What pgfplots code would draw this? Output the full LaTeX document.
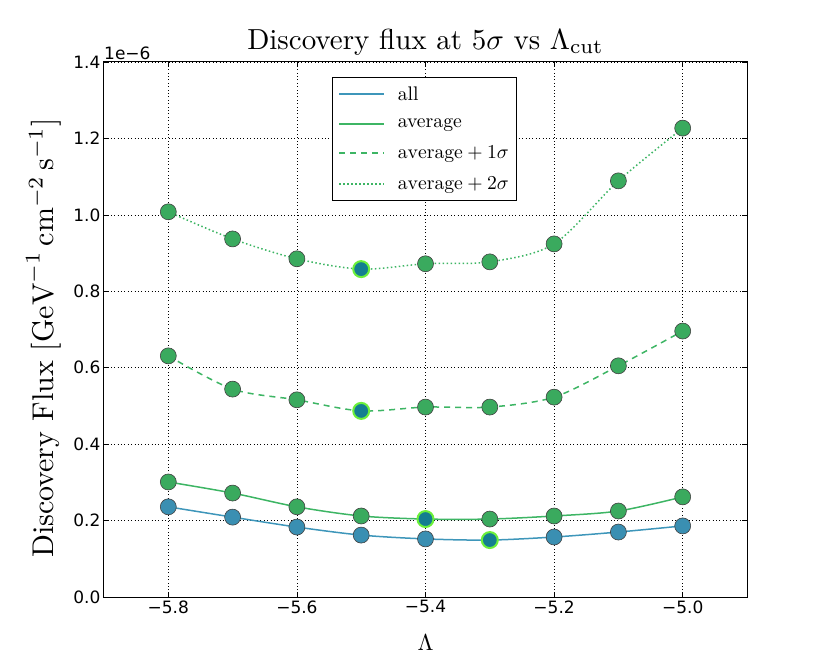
\documentclass[border=0pt]{standalone}
\usepackage{pgfplots}
\pgfplotsset{compat=1.18}
\usepackage{fontspec}
\newfontfamily\dejavu{DejaVu Sans}
\definecolor{cblue}{HTML}{3E96BA}
\definecolor{cgreen}{HTML}{3DB564}
\definecolor{mblue}{HTML}{3A8FB2}
\definecolor{mgreen}{HTML}{3AAA5E}
\definecolor{hfill}{HTML}{147E90}
\definecolor{hedge}{HTML}{6CF03A}
\newcommand{\lgf}[1]{\scalebox{1.97}{#1}}
\begin{document}
\begin{tikzpicture}
\path[use as bounding box] (-104pt,-67pt) rectangle (726pt,597pt);
\begin{axis}[name=ax,
  at={(0pt,0pt)}, anchor=south west,
  width=643pt, height=535pt, scale only axis,
  xmin=-5.9, xmax=-4.9, ymin=0, ymax=1.4,
  xtick={-5.8,-5.6,-5.4,-5.2,-5.0},
  xticklabels={−5.8,−5.6,−5.4,−5.2,−5.0},
  ytick={0,0.2,0.4,0.6,0.8,1.0,1.2,1.4},
  yticklabels={0.0,0.2,0.4,0.6,0.8,1.0,1.2,1.4},
  tick label style={font=\dejavu\fontsize{17}{20}\selectfont},
  xtick pos=both, ytick pos=both, tick align=inside,
  major tick length=5.5pt,
  tick style={black, line width=0.6pt},
  axis line style={black, line width=1pt},
  grid=major,
  grid style={black, line width=0.6pt, dash pattern=on 0.8pt off 2.6pt},
  title={Discovery flux at $5\sigma$ vs $\Lambda_{\rm cut}$},
  title style={font=\fontsize{10}{12}\selectfont, scale=2.9, inner sep=0pt, at={(axis description cs:0.5,1.012)}, anchor=base},
  xlabel={$\Lambda$},
  xlabel style={font=\fontsize{10}{12}\selectfont, scale=2.3, at={(axis description cs:0.5,-0.085)}, anchor=center},
  ylabel={Discovery Flux $[\mathrm{GeV}^{-1}\,\mathrm{cm}^{-2}\,\mathrm{s}^{-1}]$},
  ylabel style={font=\fontsize{10}{12}\selectfont, scale=3.0, at={(axis description cs:-0.094,0.484)}, anchor=center},
  legend style={at={(axis description cs:0.3546,0.972)}, anchor=north west,
    draw=black, line width=0.8pt,
    row sep=13pt, inner xsep=6pt, inner ysep=7pt},
  legend cell align=left,
  legend image code/.code={\draw[#1, line width=2pt] (0pt,0pt) -- (45pt,0pt); \path (56pt,0pt);},
]
\addlegendimage{color=cblue, solid}
\addlegendentry{\lgf{all}}
\addlegendimage{color=cgreen, solid}
\addlegendentry{\lgf{average}}
\addlegendimage{color=cgreen, dash pattern=on 6pt off 5pt}
\addlegendentry{\lgf{$\mathrm{average} + 1\sigma$}}
\addlegendimage{color=cgreen, dash pattern=on 1.5pt off 2.5pt}
\addlegendentry{\lgf{$\mathrm{average} + 2\sigma$}}
% lines
\addplot[forget plot, color=cblue, line width=1.5pt, smooth, no marks, solid] coordinates {
(-5.8,0.236) (-5.7,0.209) (-5.6,0.183) (-5.5,0.162) (-5.4,0.152) (-5.3,0.149) (-5.2,0.157) (-5.1,0.170) (-5.0,0.186)};
\addplot[forget plot, color=cgreen, line width=1.5pt, smooth, no marks, solid] coordinates {
(-5.8,0.301) (-5.7,0.272) (-5.6,0.236) (-5.5,0.212) (-5.4,0.204) (-5.3,0.204) (-5.2,0.212) (-5.1,0.225) (-5.0,0.262)};
\addplot[forget plot, color=cgreen, line width=1.5pt, smooth, no marks, dash pattern=on 6pt off 5pt] coordinates {
(-5.8,0.631) (-5.7,0.544) (-5.6,0.516) (-5.5,0.487) (-5.4,0.497) (-5.3,0.497) (-5.2,0.523) (-5.1,0.605) (-5.0,0.696)};
\addplot[forget plot, color=cgreen, line width=1.5pt, smooth, no marks, dash pattern=on 1.5pt off 2.5pt] coordinates {
(-5.8,1.008) (-5.7,0.937) (-5.6,0.885) (-5.5,0.858) (-5.4,0.872) (-5.3,0.877) (-5.2,0.924) (-5.1,1.089) (-5.0,1.227)};
% markers
\addplot[forget plot, only marks, mark=*, mark size=8pt, mark options={fill=mblue, draw=black!75, line width=0.6pt}] coordinates {
(-5.8,0.236) (-5.7,0.209) (-5.6,0.183) (-5.5,0.162) (-5.4,0.152) (-5.2,0.157) (-5.1,0.170) (-5.0,0.186)};
\addplot[forget plot, only marks, mark=*, mark size=8pt, mark options={fill=mgreen, draw=black!75, line width=0.6pt}] coordinates {
(-5.8,0.301) (-5.7,0.272) (-5.6,0.236) (-5.5,0.212) (-5.3,0.204) (-5.2,0.212) (-5.1,0.225) (-5.0,0.262)
(-5.8,0.631) (-5.7,0.544) (-5.6,0.516) (-5.4,0.497) (-5.3,0.497) (-5.2,0.523) (-5.1,0.605) (-5.0,0.696)
(-5.8,1.008) (-5.7,0.937) (-5.6,0.885) (-5.4,0.872) (-5.3,0.877) (-5.2,0.924) (-5.1,1.089) (-5.0,1.227)};
\addplot[forget plot, only marks, mark=*, mark size=8pt, mark options={fill=hfill, draw=hedge, line width=2pt}] coordinates {
(-5.3,0.149) (-5.4,0.204) (-5.5,0.487) (-5.5,0.858)};
\end{axis}
\node[anchor=south west, font=\dejavu\fontsize{17}{20}\selectfont, inner sep=0pt] at ([yshift=2pt]ax.north west) {1e−6};
\end{tikzpicture}
\end{document}
